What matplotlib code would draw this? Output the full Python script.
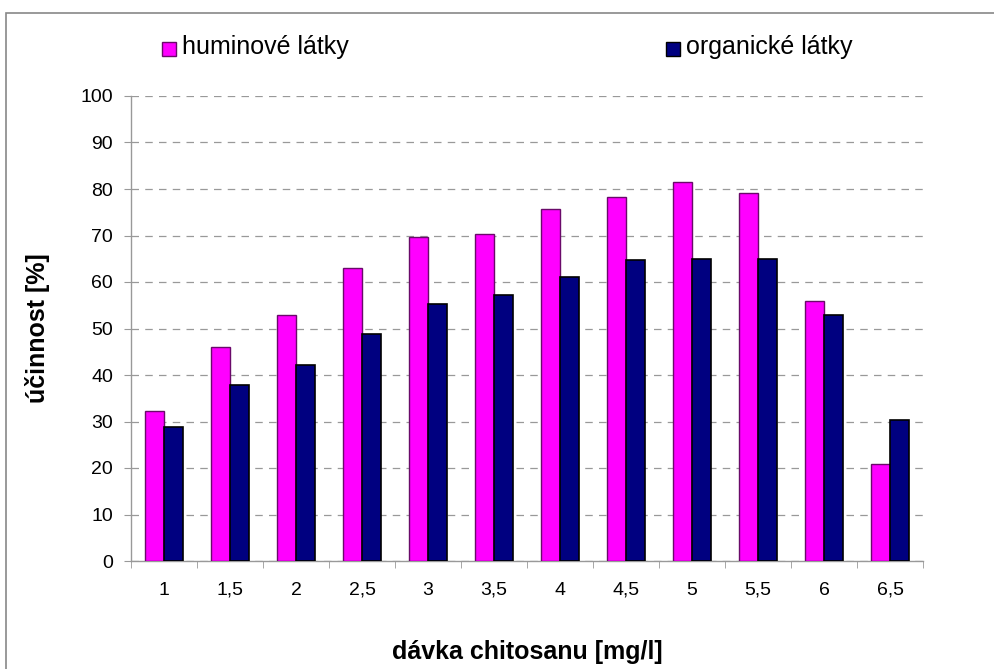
import matplotlib.pyplot as plt
import numpy as np
from matplotlib.patches import Rectangle

plt.rcParams['font.family'] = ['Liberation Sans', 'DejaVu Sans']

# data
davka = ['1', '1,5', '2', '2,5', '3', '3,5', '4', '4,5', '5', '5,5', '6', '6,5']
huminove = [32.3, 46.0, 52.9, 63.0, 69.7, 70.3, 75.7, 78.3, 81.4, 79.2, 56.0, 20.8]
organicke = [28.8, 37.8, 42.1, 48.8, 55.3, 57.2, 61.1, 64.7, 65.0, 65.0, 53.0, 30.3]

W, H = 995, 669
fig = plt.figure(figsize=(W / 100, H / 100), dpi=100)
ax = fig.add_axes([131 / W, 1 - 561 / H, (923 - 131) / W, (561 - 96) / H])

x = np.arange(len(davka))
bw = 0.295
ax.bar(x - bw / 2, huminove, bw, color='#ff00ff', edgecolor='#6a0a6a', linewidth=1.0, zorder=3)
ax.bar(x + bw / 2, organicke, bw, color='#000080', edgecolor='black', linewidth=1.2, zorder=3)

ax.set_xlim(-0.5, len(davka) - 0.5)
ax.set_ylim(0, 100)
ax.set_yticks(np.arange(0, 101, 10))
ax.set_xticks(x)
ax.set_xticklabels(davka)
ax.set_xticks(np.arange(-0.5, len(davka), 1), minor=True)
ax.tick_params(axis='x', which='major', length=0, pad=15, labelsize=14)
ax.tick_params(axis='x', which='minor', length=5, color='#999999')
ax.tick_params(axis='y', length=5, color='#999999', pad=8, labelsize=14)

ax.grid(axis='y', color='#999999', linestyle=(0, (6, 5)), linewidth=0.9, zorder=0)
for s in ['top', 'right']:
    ax.spines[s].set_visible(False)
for s in ['left', 'bottom']:
    ax.spines[s].set_color('#999999')
    ax.spines[s].set_linewidth(1.0)

ax.set_ylabel('účinnost [%]', fontsize=18, fontweight='bold')
ax.yaxis.set_label_coords((50 - 131) / 792, 0.5)
fig.text(527 / W, 1 - 652 / H, 'dávka chitosanu [mg/l]', fontsize=18,
         fontweight='bold', ha='center', va='center')

# legend drawn by hand to match placement
for lx, col, ec, lab in [(162, '#ff00ff', '#6a0a6a', 'huminové látky'),
                         (666, '#000080', 'black', 'organické látky')]:
    fig.patches.append(Rectangle((lx / W, 1 - 56 / H), 14 / W, 14 / H,
                                 transform=fig.transFigure, facecolor=col,
                                 edgecolor=ec, linewidth=1.0))
    fig.text((lx + 20) / W, 1 - 47 / H, lab, fontsize=18, va='center', ha='left')

# outer frame
fig.patches.append(Rectangle((6 / W, -0.05), 1.2, 1 - 13 / H + 0.05,
                             transform=fig.transFigure, fill=False,
                             edgecolor='#888888', linewidth=1.2))

fig.savefig('out.png', dpi=100)
